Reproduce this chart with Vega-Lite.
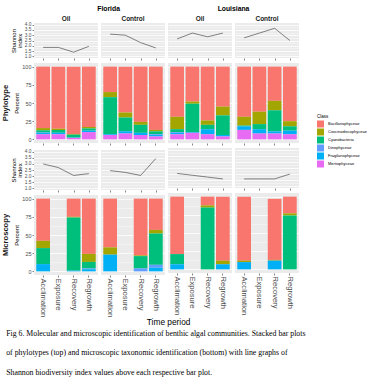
{
  "$schema": "https://vega.github.io/schema/vega-lite/v6.json",
  "padding": {"left": 2, "top": 5, "right": 0, "bottom": 0},
  "background": "white",
  "datasets": {
    "bars": [
      {"site":"Florida","trt":"Oil","method":"Phylotype","period":"Acclimation","class":"Bacillariophyceae","pct":84.5},
      {"site":"Florida","trt":"Oil","method":"Phylotype","period":"Acclimation","class":"Coscinodiscophyceae","pct":3},
      {"site":"Florida","trt":"Oil","method":"Phylotype","period":"Acclimation","class":"Cyanobacteria","pct":3},
      {"site":"Florida","trt":"Oil","method":"Phylotype","period":"Acclimation","class":"Dinophyceae","pct":0.5},
      {"site":"Florida","trt":"Oil","method":"Phylotype","period":"Acclimation","class":"Fragilariophyceae","pct":2},
      {"site":"Florida","trt":"Oil","method":"Phylotype","period":"Acclimation","class":"Mertiophyceae","pct":7},
      {"site":"Florida","trt":"Oil","method":"Phylotype","period":"Exposure","class":"Bacillariophyceae","pct":85.5},
      {"site":"Florida","trt":"Oil","method":"Phylotype","period":"Exposure","class":"Coscinodiscophyceae","pct":1.5},
      {"site":"Florida","trt":"Oil","method":"Phylotype","period":"Exposure","class":"Cyanobacteria","pct":4},
      {"site":"Florida","trt":"Oil","method":"Phylotype","period":"Exposure","class":"Fragilariophyceae","pct":2},
      {"site":"Florida","trt":"Oil","method":"Phylotype","period":"Exposure","class":"Mertiophyceae","pct":7},
      {"site":"Florida","trt":"Oil","method":"Phylotype","period":"Recovery","class":"Bacillariophyceae","pct":92.5},
      {"site":"Florida","trt":"Oil","method":"Phylotype","period":"Recovery","class":"Coscinodiscophyceae","pct":1},
      {"site":"Florida","trt":"Oil","method":"Phylotype","period":"Recovery","class":"Cyanobacteria","pct":4},
      {"site":"Florida","trt":"Oil","method":"Phylotype","period":"Recovery","class":"Fragilariophyceae","pct":0.5},
      {"site":"Florida","trt":"Oil","method":"Phylotype","period":"Recovery","class":"Mertiophyceae","pct":2},
      {"site":"Florida","trt":"Oil","method":"Phylotype","period":"Regrowth","class":"Bacillariophyceae","pct":83},
      {"site":"Florida","trt":"Oil","method":"Phylotype","period":"Regrowth","class":"Coscinodiscophyceae","pct":2},
      {"site":"Florida","trt":"Oil","method":"Phylotype","period":"Regrowth","class":"Cyanobacteria","pct":3},
      {"site":"Florida","trt":"Oil","method":"Phylotype","period":"Regrowth","class":"Fragilariophyceae","pct":2},
      {"site":"Florida","trt":"Oil","method":"Phylotype","period":"Regrowth","class":"Mertiophyceae","pct":10},
      {"site":"Florida","trt":"Control","method":"Phylotype","period":"Acclimation","class":"Bacillariophyceae","pct":35},
      {"site":"Florida","trt":"Control","method":"Phylotype","period":"Acclimation","class":"Coscinodiscophyceae","pct":7},
      {"site":"Florida","trt":"Control","method":"Phylotype","period":"Acclimation","class":"Cyanobacteria","pct":51},
      {"site":"Florida","trt":"Control","method":"Phylotype","period":"Acclimation","class":"Fragilariophyceae","pct":1},
      {"site":"Florida","trt":"Control","method":"Phylotype","period":"Acclimation","class":"Mertiophyceae","pct":6},
      {"site":"Florida","trt":"Control","method":"Phylotype","period":"Exposure","class":"Bacillariophyceae","pct":63},
      {"site":"Florida","trt":"Control","method":"Phylotype","period":"Exposure","class":"Coscinodiscophyceae","pct":7},
      {"site":"Florida","trt":"Control","method":"Phylotype","period":"Exposure","class":"Cyanobacteria","pct":19},
      {"site":"Florida","trt":"Control","method":"Phylotype","period":"Exposure","class":"Fragilariophyceae","pct":3},
      {"site":"Florida","trt":"Control","method":"Phylotype","period":"Exposure","class":"Mertiophyceae","pct":8},
      {"site":"Florida","trt":"Control","method":"Phylotype","period":"Recovery","class":"Bacillariophyceae","pct":76},
      {"site":"Florida","trt":"Control","method":"Phylotype","period":"Recovery","class":"Coscinodiscophyceae","pct":4},
      {"site":"Florida","trt":"Control","method":"Phylotype","period":"Recovery","class":"Cyanobacteria","pct":11},
      {"site":"Florida","trt":"Control","method":"Phylotype","period":"Recovery","class":"Fragilariophyceae","pct":3},
      {"site":"Florida","trt":"Control","method":"Phylotype","period":"Recovery","class":"Mertiophyceae","pct":6},
      {"site":"Florida","trt":"Control","method":"Phylotype","period":"Regrowth","class":"Bacillariophyceae","pct":87},
      {"site":"Florida","trt":"Control","method":"Phylotype","period":"Regrowth","class":"Coscinodiscophyceae","pct":2},
      {"site":"Florida","trt":"Control","method":"Phylotype","period":"Regrowth","class":"Cyanobacteria","pct":4},
      {"site":"Florida","trt":"Control","method":"Phylotype","period":"Regrowth","class":"Dinophyceae","pct":1},
      {"site":"Florida","trt":"Control","method":"Phylotype","period":"Regrowth","class":"Fragilariophyceae","pct":2},
      {"site":"Florida","trt":"Control","method":"Phylotype","period":"Regrowth","class":"Mertiophyceae","pct":4},
      {"site":"Louisiana","trt":"Oil","method":"Phylotype","period":"Acclimation","class":"Bacillariophyceae","pct":69},
      {"site":"Louisiana","trt":"Oil","method":"Phylotype","period":"Acclimation","class":"Coscinodiscophyceae","pct":17},
      {"site":"Louisiana","trt":"Oil","method":"Phylotype","period":"Acclimation","class":"Cyanobacteria","pct":4},
      {"site":"Louisiana","trt":"Oil","method":"Phylotype","period":"Acclimation","class":"Dinophyceae","pct":1},
      {"site":"Louisiana","trt":"Oil","method":"Phylotype","period":"Acclimation","class":"Fragilariophyceae","pct":2},
      {"site":"Louisiana","trt":"Oil","method":"Phylotype","period":"Acclimation","class":"Mertiophyceae","pct":7},
      {"site":"Louisiana","trt":"Oil","method":"Phylotype","period":"Exposure","class":"Bacillariophyceae","pct":48},
      {"site":"Louisiana","trt":"Oil","method":"Phylotype","period":"Exposure","class":"Coscinodiscophyceae","pct":3},
      {"site":"Louisiana","trt":"Oil","method":"Phylotype","period":"Exposure","class":"Cyanobacteria","pct":39},
      {"site":"Louisiana","trt":"Oil","method":"Phylotype","period":"Exposure","class":"Fragilariophyceae","pct":1},
      {"site":"Louisiana","trt":"Oil","method":"Phylotype","period":"Exposure","class":"Mertiophyceae","pct":9},
      {"site":"Louisiana","trt":"Oil","method":"Phylotype","period":"Recovery","class":"Bacillariophyceae","pct":74},
      {"site":"Louisiana","trt":"Oil","method":"Phylotype","period":"Recovery","class":"Coscinodiscophyceae","pct":6},
      {"site":"Louisiana","trt":"Oil","method":"Phylotype","period":"Recovery","class":"Cyanobacteria","pct":6},
      {"site":"Louisiana","trt":"Oil","method":"Phylotype","period":"Recovery","class":"Fragilariophyceae","pct":7},
      {"site":"Louisiana","trt":"Oil","method":"Phylotype","period":"Recovery","class":"Mertiophyceae","pct":7},
      {"site":"Louisiana","trt":"Oil","method":"Phylotype","period":"Regrowth","class":"Bacillariophyceae","pct":55},
      {"site":"Louisiana","trt":"Oil","method":"Phylotype","period":"Regrowth","class":"Coscinodiscophyceae","pct":12},
      {"site":"Louisiana","trt":"Oil","method":"Phylotype","period":"Regrowth","class":"Cyanobacteria","pct":27},
      {"site":"Louisiana","trt":"Oil","method":"Phylotype","period":"Regrowth","class":"Fragilariophyceae","pct":2},
      {"site":"Louisiana","trt":"Oil","method":"Phylotype","period":"Regrowth","class":"Mertiophyceae","pct":4},
      {"site":"Louisiana","trt":"Control","method":"Phylotype","period":"Acclimation","class":"Bacillariophyceae","pct":69},
      {"site":"Louisiana","trt":"Control","method":"Phylotype","period":"Acclimation","class":"Coscinodiscophyceae","pct":12},
      {"site":"Louisiana","trt":"Control","method":"Phylotype","period":"Acclimation","class":"Cyanobacteria","pct":1},
      {"site":"Louisiana","trt":"Control","method":"Phylotype","period":"Acclimation","class":"Fragilariophyceae","pct":5},
      {"site":"Louisiana","trt":"Control","method":"Phylotype","period":"Acclimation","class":"Mertiophyceae","pct":13},
      {"site":"Louisiana","trt":"Control","method":"Phylotype","period":"Exposure","class":"Bacillariophyceae","pct":62},
      {"site":"Louisiana","trt":"Control","method":"Phylotype","period":"Exposure","class":"Coscinodiscophyceae","pct":17},
      {"site":"Louisiana","trt":"Control","method":"Phylotype","period":"Exposure","class":"Cyanobacteria","pct":7},
      {"site":"Louisiana","trt":"Control","method":"Phylotype","period":"Exposure","class":"Fragilariophyceae","pct":6},
      {"site":"Louisiana","trt":"Control","method":"Phylotype","period":"Exposure","class":"Mertiophyceae","pct":8},
      {"site":"Louisiana","trt":"Control","method":"Phylotype","period":"Recovery","class":"Bacillariophyceae","pct":47},
      {"site":"Louisiana","trt":"Control","method":"Phylotype","period":"Recovery","class":"Coscinodiscophyceae","pct":13},
      {"site":"Louisiana","trt":"Control","method":"Phylotype","period":"Recovery","class":"Cyanobacteria","pct":29},
      {"site":"Louisiana","trt":"Control","method":"Phylotype","period":"Recovery","class":"Fragilariophyceae","pct":3},
      {"site":"Louisiana","trt":"Control","method":"Phylotype","period":"Recovery","class":"Mertiophyceae","pct":8},
      {"site":"Louisiana","trt":"Control","method":"Phylotype","period":"Regrowth","class":"Bacillariophyceae","pct":75},
      {"site":"Louisiana","trt":"Control","method":"Phylotype","period":"Regrowth","class":"Coscinodiscophyceae","pct":7},
      {"site":"Louisiana","trt":"Control","method":"Phylotype","period":"Regrowth","class":"Cyanobacteria","pct":6},
      {"site":"Louisiana","trt":"Control","method":"Phylotype","period":"Regrowth","class":"Fragilariophyceae","pct":5},
      {"site":"Louisiana","trt":"Control","method":"Phylotype","period":"Regrowth","class":"Mertiophyceae","pct":7},
      {"site":"Florida","trt":"Oil","method":"Microscopy","period":"Acclimation","class":"Bacillariophyceae","pct":58},
      {"site":"Florida","trt":"Oil","method":"Microscopy","period":"Acclimation","class":"Coscinodiscophyceae","pct":10},
      {"site":"Florida","trt":"Oil","method":"Microscopy","period":"Acclimation","class":"Cyanobacteria","pct":22},
      {"site":"Florida","trt":"Oil","method":"Microscopy","period":"Acclimation","class":"Fragilariophyceae","pct":10},
      {"site":"Florida","trt":"Oil","method":"Microscopy","period":"Recovery","class":"Bacillariophyceae","pct":25},
      {"site":"Florida","trt":"Oil","method":"Microscopy","period":"Recovery","class":"Coscinodiscophyceae","pct":1},
      {"site":"Florida","trt":"Oil","method":"Microscopy","period":"Recovery","class":"Cyanobacteria","pct":73},
      {"site":"Florida","trt":"Oil","method":"Microscopy","period":"Recovery","class":"Fragilariophyceae","pct":1},
      {"site":"Florida","trt":"Oil","method":"Microscopy","period":"Regrowth","class":"Bacillariophyceae","pct":76},
      {"site":"Florida","trt":"Oil","method":"Microscopy","period":"Regrowth","class":"Coscinodiscophyceae","pct":11},
      {"site":"Florida","trt":"Oil","method":"Microscopy","period":"Regrowth","class":"Cyanobacteria","pct":9},
      {"site":"Florida","trt":"Oil","method":"Microscopy","period":"Regrowth","class":"Dinophyceae","pct":1},
      {"site":"Florida","trt":"Oil","method":"Microscopy","period":"Regrowth","class":"Fragilariophyceae","pct":3},
      {"site":"Florida","trt":"Control","method":"Microscopy","period":"Acclimation","class":"Bacillariophyceae","pct":67},
      {"site":"Florida","trt":"Control","method":"Microscopy","period":"Acclimation","class":"Coscinodiscophyceae","pct":10},
      {"site":"Florida","trt":"Control","method":"Microscopy","period":"Acclimation","class":"Fragilariophyceae","pct":23},
      {"site":"Florida","trt":"Control","method":"Microscopy","period":"Recovery","class":"Bacillariophyceae","pct":78},
      {"site":"Florida","trt":"Control","method":"Microscopy","period":"Recovery","class":"Coscinodiscophyceae","pct":1},
      {"site":"Florida","trt":"Control","method":"Microscopy","period":"Recovery","class":"Cyanobacteria","pct":17},
      {"site":"Florida","trt":"Control","method":"Microscopy","period":"Recovery","class":"Dinophyceae","pct":4},
      {"site":"Florida","trt":"Control","method":"Microscopy","period":"Regrowth","class":"Bacillariophyceae","pct":43},
      {"site":"Florida","trt":"Control","method":"Microscopy","period":"Regrowth","class":"Coscinodiscophyceae","pct":5},
      {"site":"Florida","trt":"Control","method":"Microscopy","period":"Regrowth","class":"Cyanobacteria","pct":43},
      {"site":"Florida","trt":"Control","method":"Microscopy","period":"Regrowth","class":"Dinophyceae","pct":4},
      {"site":"Florida","trt":"Control","method":"Microscopy","period":"Regrowth","class":"Fragilariophyceae","pct":5},
      {"site":"Louisiana","trt":"Oil","method":"Microscopy","period":"Acclimation","class":"Bacillariophyceae","pct":79},
      {"site":"Louisiana","trt":"Oil","method":"Microscopy","period":"Acclimation","class":"Cyanobacteria","pct":14},
      {"site":"Louisiana","trt":"Oil","method":"Microscopy","period":"Acclimation","class":"Fragilariophyceae","pct":7},
      {"site":"Louisiana","trt":"Oil","method":"Microscopy","period":"Recovery","class":"Bacillariophyceae","pct":12},
      {"site":"Louisiana","trt":"Oil","method":"Microscopy","period":"Recovery","class":"Coscinodiscophyceae","pct":3},
      {"site":"Louisiana","trt":"Oil","method":"Microscopy","period":"Recovery","class":"Cyanobacteria","pct":85},
      {"site":"Louisiana","trt":"Oil","method":"Microscopy","period":"Regrowth","class":"Bacillariophyceae","pct":88},
      {"site":"Louisiana","trt":"Oil","method":"Microscopy","period":"Regrowth","class":"Coscinodiscophyceae","pct":5},
      {"site":"Louisiana","trt":"Oil","method":"Microscopy","period":"Regrowth","class":"Fragilariophyceae","pct":7},
      {"site":"Louisiana","trt":"Control","method":"Microscopy","period":"Acclimation","class":"Bacillariophyceae","pct":88},
      {"site":"Louisiana","trt":"Control","method":"Microscopy","period":"Acclimation","class":"Coscinodiscophyceae","pct":2},
      {"site":"Louisiana","trt":"Control","method":"Microscopy","period":"Acclimation","class":"Fragilariophyceae","pct":10},
      {"site":"Louisiana","trt":"Control","method":"Microscopy","period":"Recovery","class":"Bacillariophyceae","pct":84},
      {"site":"Louisiana","trt":"Control","method":"Microscopy","period":"Recovery","class":"Coscinodiscophyceae","pct":1},
      {"site":"Louisiana","trt":"Control","method":"Microscopy","period":"Recovery","class":"Fragilariophyceae","pct":12},
      {"site":"Louisiana","trt":"Control","method":"Microscopy","period":"Regrowth","class":"Bacillariophyceae","pct":23},
      {"site":"Louisiana","trt":"Control","method":"Microscopy","period":"Regrowth","class":"Coscinodiscophyceae","pct":3},
      {"site":"Louisiana","trt":"Control","method":"Microscopy","period":"Regrowth","class":"Cyanobacteria","pct":74}
    ],
    "shannon": [
      {"site":"Florida","trt":"Oil","method":"Phylotype","period":"Acclimation","index":1.85},
      {"site":"Florida","trt":"Oil","method":"Phylotype","period":"Exposure","index":1.85},
      {"site":"Florida","trt":"Oil","method":"Phylotype","period":"Recovery","index":1.4},
      {"site":"Florida","trt":"Oil","method":"Phylotype","period":"Regrowth","index":1.95},
      {"site":"Florida","trt":"Control","method":"Phylotype","period":"Acclimation","index":3.1},
      {"site":"Florida","trt":"Control","method":"Phylotype","period":"Exposure","index":3.0},
      {"site":"Florida","trt":"Control","method":"Phylotype","period":"Recovery","index":2.3},
      {"site":"Florida","trt":"Control","method":"Phylotype","period":"Regrowth","index":1.8},
      {"site":"Louisiana","trt":"Oil","method":"Phylotype","period":"Acclimation","index":2.65},
      {"site":"Louisiana","trt":"Oil","method":"Phylotype","period":"Exposure","index":3.2},
      {"site":"Louisiana","trt":"Oil","method":"Phylotype","period":"Recovery","index":2.85},
      {"site":"Louisiana","trt":"Oil","method":"Phylotype","period":"Regrowth","index":3.2},
      {"site":"Louisiana","trt":"Control","method":"Phylotype","period":"Acclimation","index":2.75},
      {"site":"Louisiana","trt":"Control","method":"Phylotype","period":"Exposure","index":3.2},
      {"site":"Louisiana","trt":"Control","method":"Phylotype","period":"Recovery","index":3.65},
      {"site":"Louisiana","trt":"Control","method":"Phylotype","period":"Regrowth","index":2.5},
      {"site":"Florida","trt":"Oil","method":"Microscopy","period":"Acclimation","index":3.0},
      {"site":"Florida","trt":"Oil","method":"Microscopy","period":"Exposure","index":2.7},
      {"site":"Florida","trt":"Oil","method":"Microscopy","period":"Recovery","index":2.05},
      {"site":"Florida","trt":"Oil","method":"Microscopy","period":"Regrowth","index":2.2},
      {"site":"Florida","trt":"Control","method":"Microscopy","period":"Acclimation","index":2.45},
      {"site":"Florida","trt":"Control","method":"Microscopy","period":"Exposure","index":2.3},
      {"site":"Florida","trt":"Control","method":"Microscopy","period":"Recovery","index":2.05},
      {"site":"Florida","trt":"Control","method":"Microscopy","period":"Regrowth","index":3.45},
      {"site":"Louisiana","trt":"Oil","method":"Microscopy","period":"Acclimation","index":2.05},
      {"site":"Louisiana","trt":"Oil","method":"Microscopy","period":"Exposure","index":1.9},
      {"site":"Louisiana","trt":"Oil","method":"Microscopy","period":"Recovery","index":1.75},
      {"site":"Louisiana","trt":"Oil","method":"Microscopy","period":"Regrowth","index":1.6},
      {"site":"Louisiana","trt":"Control","method":"Microscopy","period":"Acclimation","index":1.6},
      {"site":"Louisiana","trt":"Control","method":"Microscopy","period":"Exposure","index":1.6},
      {"site":"Louisiana","trt":"Control","method":"Microscopy","period":"Recovery","index":1.6},
      {"site":"Louisiana","trt":"Control","method":"Microscopy","period":"Regrowth","index":2.0}
    ]
  },
  "title": {
    "text": [
      "Fig 6. Molecular and microscopic identification of benthic algal communities. Stacked bar plots",
      "of phylotypes (top) and microscopic taxonomic identification (bottom) with line graphs of",
      "Shannon biodiversity index values above each respective bar plot."
    ],
    "orient": "bottom",
    "anchor": "start",
    "font": "Liberation Serif",
    "fontSize": 7.8,
    "fontWeight": "normal",
    "color": "#000000",
    "lineHeight": 19.3,
    "offset": 4,
    "dx": 4
  },
  "vconcat": [
    {
      "title": {"text": "Time period", "orient": "bottom", "anchor": "middle", "fontSize": 8.3, "fontWeight": "normal", "offset": 1, "dx": 18},
      "spacing": 3,
      "hconcat": [
        {
          "title": {"text": "Florida", "anchor": "middle", "fontSize": 6.8, "fontWeight": "bold", "offset": 3, "dx": 25},
          "spacing": 2,
          "vconcat": [
            {
              "data": {"name": "shannon"},
              "transform": [{"filter": "datum.site == 'Florida' && datum.method == 'Phylotype'"}],
              "facet": {"column": {"field": "trt", "sort": ["Oil", "Control"], "header": {"title": null}}},
              "spacing": 3,
              "spec": {
                "width": 64, "height": 35,
                "mark": {"type": "line", "color": "#333333", "strokeWidth": 0.6},
                "encoding": {
                  "x": {"field": "period", "type": "nominal", "scale": {"type": "point", "domain": ["Acclimation","Exposure","Recovery","Regrowth"], "padding": 0.6}, "axis": {"title": null, "labels": false, "gridWidth": 0.8}},
                  "y": {"field": "index", "type": "quantitative", "scale": {"domain": [0.85, 4.15], "nice": false, "zero": false},
                        "axis": {"title": ["Shannon", "index"], "values": [1,1.25,1.5,1.75,2,2.25,2.5,2.75,3,3.25,3.5,3.75,4], "labelExpr": "datum.value % 0.5 == 0 ? format(datum.value, '.1f') : ''", "gridWidth": {"condition": {"test": "datum.value % 0.5 != 0", "value": 0.35}, "value": 0.8}, "tickColor": {"condition": {"test": "datum.value % 0.5 != 0", "value": "transparent"}, "value": "#333333"}, "labelFontSize": 4.8, "titleFontSize": 6, "titleLineHeight": 6}}
                }
              }
            },
            {
              "data": {"name": "bars"},
              "transform": [{"filter": "datum.site == 'Florida' && datum.method == 'Phylotype'"}],
              "facet": {
                "row": {"field": "method", "header": {"title": null, "labelFontSize": 7.6, "labelFontWeight": "bold", "labelPadding": 4}},
                "column": {"field": "trt", "sort": ["Oil", "Control"], "header": {"title": null, "labels": false}}
              },
              "spacing": {"column": 3, "row": 0},
              "spec": {
                "width": 64, "height": 80,
                "mark": {"type": "bar"},
                "encoding": {
                  "x": {"field": "period", "type": "nominal", "scale": {"domain": ["Acclimation","Exposure","Recovery","Regrowth"], "paddingInner": 0.1, "paddingOuter": 0.15}, "axis": {"title": null, "labels": false, "bandPosition": 0.5, "gridWidth": 0.8}},
                  "y": {"field": "pct", "type": "quantitative", "stack": "zero", "scale": {"domain": [-5, 105], "nice": false, "zero": false},
                        "axis": {"title": "Percent", "values": [0,12.5,25,37.5,50,62.5,75,87.5,100], "labelExpr": "datum.value % 25 == 0 ? datum.label : ''", "gridWidth": {"condition": {"test": "datum.value % 25 != 0", "value": 0.35}, "value": 0.8}, "tickColor": {"condition": {"test": "datum.value % 25 != 0", "value": "transparent"}, "value": "#333333"}, "labelFontSize": 5.5, "titleFontSize": 6}},
                  "color": {"field": "class", "type": "nominal", "title": "Class", "scale": {"domain": ["Bacillariophyceae","Coscinodiscophyceae","Cyanobacteria","Dinophyceae","Fragilariophyceae","Mertiophyceae"], "range": ["#F8766D","#A3A500","#00BF7D","#619CFF","#00B0F6","#E76BF3"]}},
                  "order": {"field": "class", "sort": "descending"}
                }
              }
            },
            {
              "data": {"name": "shannon"},
              "transform": [{"filter": "datum.site == 'Florida' && datum.method == 'Microscopy'"}],
              "facet": {"column": {"field": "trt", "sort": ["Oil", "Control"], "header": {"title": null, "labels": false}}},
              "spacing": 3,
              "spec": {
                "width": 64, "height": 40,
                "mark": {"type": "line", "color": "#333333", "strokeWidth": 0.6},
                "encoding": {
                  "x": {"field": "period", "type": "nominal", "scale": {"type": "point", "domain": ["Acclimation","Exposure","Recovery","Regrowth"], "padding": 0.6}, "axis": {"title": null, "labels": false, "gridWidth": 0.8}},
                  "y": {"field": "index", "type": "quantitative", "scale": {"domain": [0.85, 4.15], "nice": false, "zero": false},
                        "axis": {"title": ["Shannon", "index"], "values": [1,1.25,1.5,1.75,2,2.25,2.5,2.75,3,3.25,3.5,3.75,4], "labelExpr": "datum.value % 0.5 == 0 ? format(datum.value, '.1f') : ''", "gridWidth": {"condition": {"test": "datum.value % 0.5 != 0", "value": 0.35}, "value": 0.8}, "tickColor": {"condition": {"test": "datum.value % 0.5 != 0", "value": "transparent"}, "value": "#333333"}, "labelFontSize": 4.8, "titleFontSize": 6, "titleLineHeight": 6}}
                }
              }
            },
            {
              "data": {"name": "bars"},
              "transform": [{"filter": "datum.site == 'Florida' && datum.method == 'Microscopy'"}],
              "facet": {
                "row": {"field": "method", "header": {"title": null, "labelFontSize": 7.6, "labelFontWeight": "bold", "labelPadding": 4}},
                "column": {"field": "trt", "sort": ["Oil", "Control"], "header": {"title": null, "labels": false}}
              },
              "spacing": {"column": 3, "row": 0},
              "spec": {
                "width": 64, "height": 80,
                "mark": {"type": "bar"},
                "encoding": {
                  "x": {"field": "period", "type": "nominal", "scale": {"domain": ["Acclimation","Exposure","Recovery","Regrowth"], "paddingInner": 0.1, "paddingOuter": 0.15}, "axis": {"title": null, "labelAngle": 90, "labelFontSize": 7.6, "bandPosition": 0.5, "gridWidth": 0.8}},
                  "y": {"field": "pct", "type": "quantitative", "stack": "zero", "scale": {"domain": [-5, 105], "nice": false, "zero": false},
                        "axis": {"title": "Percent", "values": [0,12.5,25,37.5,50,62.5,75,87.5,100], "labelExpr": "datum.value % 25 == 0 ? datum.label : ''", "gridWidth": {"condition": {"test": "datum.value % 25 != 0", "value": 0.35}, "value": 0.8}, "tickColor": {"condition": {"test": "datum.value % 25 != 0", "value": "transparent"}, "value": "#333333"}, "labelFontSize": 5.5, "titleFontSize": 6}},
                  "color": {"field": "class", "type": "nominal", "title": "Class", "scale": {"domain": ["Bacillariophyceae","Coscinodiscophyceae","Cyanobacteria","Dinophyceae","Fragilariophyceae","Mertiophyceae"], "range": ["#F8766D","#A3A500","#00BF7D","#619CFF","#00B0F6","#E76BF3"]}},
                  "order": {"field": "class", "sort": "descending"}
                }
              }
            }
          ]
        },
        {
          "title": {"text": "Louisiana", "anchor": "middle", "fontSize": 6.8, "fontWeight": "bold", "offset": 3},
          "spacing": 2,
          "vconcat": [
            {
              "data": {"name": "shannon"},
              "transform": [{"filter": "datum.site == 'Louisiana' && datum.method == 'Phylotype'"}],
              "facet": {"column": {"field": "trt", "sort": ["Oil", "Control"], "header": {"title": null}}},
              "spacing": 3,
              "spec": {
                "width": 64, "height": 35,
                "mark": {"type": "line", "color": "#333333", "strokeWidth": 0.6},
                "encoding": {
                  "x": {"field": "period", "type": "nominal", "scale": {"type": "point", "domain": ["Acclimation","Exposure","Recovery","Regrowth"], "padding": 0.6}, "axis": {"title": null, "labels": false, "gridWidth": 0.8}},
                  "y": {"field": "index", "type": "quantitative", "scale": {"domain": [0.85, 4.15], "nice": false, "zero": false},
                        "axis": {"title": null, "labels": false, "ticks": false, "values": [1,1.25,1.5,1.75,2,2.25,2.5,2.75,3,3.25,3.5,3.75,4], "gridWidth": {"condition": {"test": "datum.value % 0.5 != 0", "value": 0.35}, "value": 0.8}}}
                }
              }
            },
            {
              "data": {"name": "bars"},
              "transform": [{"filter": "datum.site == 'Louisiana' && datum.method == 'Phylotype'"}],
              "facet": {
                "column": {"field": "trt", "sort": ["Oil", "Control"], "header": {"title": null, "labels": false}}
              },
              "spacing": 3,
              "spec": {
                "width": 64, "height": 80,
                "mark": {"type": "bar"},
                "encoding": {
                  "x": {"field": "period", "type": "nominal", "scale": {"domain": ["Acclimation","Exposure","Recovery","Regrowth"], "paddingInner": 0.1, "paddingOuter": 0.15}, "axis": {"title": null, "labels": false, "bandPosition": 0.5, "gridWidth": 0.8}},
                  "y": {"field": "pct", "type": "quantitative", "stack": "zero", "scale": {"domain": [-5, 105], "nice": false, "zero": false},
                        "axis": {"title": null, "labels": false, "ticks": false, "values": [0,12.5,25,37.5,50,62.5,75,87.5,100], "gridWidth": {"condition": {"test": "datum.value % 25 != 0", "value": 0.35}, "value": 0.8}}},
                  "color": {"field": "class", "type": "nominal", "title": "Class", "scale": {"domain": ["Bacillariophyceae","Coscinodiscophyceae","Cyanobacteria","Dinophyceae","Fragilariophyceae","Mertiophyceae"], "range": ["#F8766D","#A3A500","#00BF7D","#619CFF","#00B0F6","#E76BF3"]}},
                  "order": {"field": "class", "sort": "descending"}
                }
              }
            },
            {
              "data": {"name": "shannon"},
              "transform": [{"filter": "datum.site == 'Louisiana' && datum.method == 'Microscopy'"}],
              "facet": {"column": {"field": "trt", "sort": ["Oil", "Control"], "header": {"title": null, "labels": false}}},
              "spacing": 3,
              "spec": {
                "width": 64, "height": 40,
                "mark": {"type": "line", "color": "#333333", "strokeWidth": 0.6},
                "encoding": {
                  "x": {"field": "period", "type": "nominal", "scale": {"type": "point", "domain": ["Acclimation","Exposure","Recovery","Regrowth"], "padding": 0.6}, "axis": {"title": null, "labels": false, "gridWidth": 0.8}},
                  "y": {"field": "index", "type": "quantitative", "scale": {"domain": [0.85, 4.15], "nice": false, "zero": false},
                        "axis": {"title": null, "labels": false, "ticks": false, "values": [1,1.25,1.5,1.75,2,2.25,2.5,2.75,3,3.25,3.5,3.75,4], "gridWidth": {"condition": {"test": "datum.value % 0.5 != 0", "value": 0.35}, "value": 0.8}}}
                }
              }
            },
            {
              "data": {"name": "bars"},
              "transform": [{"filter": "datum.site == 'Louisiana' && datum.method == 'Microscopy'"}],
              "facet": {
                "column": {"field": "trt", "sort": ["Oil", "Control"], "header": {"title": null, "labels": false}}
              },
              "spacing": 3,
              "spec": {
                "width": 64, "height": 80,
                "mark": {"type": "bar"},
                "encoding": {
                  "x": {"field": "period", "type": "nominal", "scale": {"domain": ["Acclimation","Exposure","Recovery","Regrowth"], "paddingInner": 0.1, "paddingOuter": 0.15}, "axis": {"title": null, "labelAngle": 90, "labelFontSize": 7.6, "bandPosition": 0.5, "gridWidth": 0.8}},
                  "y": {"field": "pct", "type": "quantitative", "stack": "zero", "scale": {"domain": [-5, 105], "nice": false, "zero": false},
                        "axis": {"title": null, "labels": false, "ticks": false, "values": [0,12.5,25,37.5,50,62.5,75,87.5,100], "gridWidth": {"condition": {"test": "datum.value % 25 != 0", "value": 0.35}, "value": 0.8}}},
                  "color": {"field": "class", "type": "nominal", "title": "Class", "scale": {"domain": ["Bacillariophyceae","Coscinodiscophyceae","Cyanobacteria","Dinophyceae","Fragilariophyceae","Mertiophyceae"], "range": ["#F8766D","#A3A500","#00BF7D","#619CFF","#00B0F6","#E76BF3"]}},
                  "order": {"field": "class", "sort": "descending"}
                }
              }
            }
          ]
        }
      ]
    }
  ],
  "config": {
    "font": "Liberation Sans",
    "view": {"fill": "#EBEBEB", "stroke": null},
    "axis": {"gridColor": "#FFFFFF", "domain": false, "tickColor": "#333333", "tickSize": 2, "tickWidth": 0.6, "labelColor": "#4D4D4D", "labelFontSize": 5, "titleFontSize": 6, "titleFontWeight": "normal", "titleColor": "#000000", "labelPadding": 1, "titlePadding": 2, "labelFont": "Liberation Sans", "titleFont": "Liberation Sans"},
    "header": {"labelFontWeight": "bold", "labelFontSize": 6.5, "labelPadding": 1, "labelColor": "#1A1A1A", "labelFont": "Liberation Sans"},
    "legend": {"orient": "none", "legendX": 283, "legendY": 91, "titleFontSize": 4.5, "titleFontWeight": "normal", "labelFontSize": 4, "symbolType": "square", "symbolSize": 49, "symbolStrokeWidth": 0, "rowPadding": 1, "titlePadding": 2, "labelFont": "Liberation Sans", "titleFont": "Liberation Sans", "labelColor": "#000000", "titleColor": "#000000"},
    "title": {"color": "#000000", "font": "Liberation Sans"}
  }
}
